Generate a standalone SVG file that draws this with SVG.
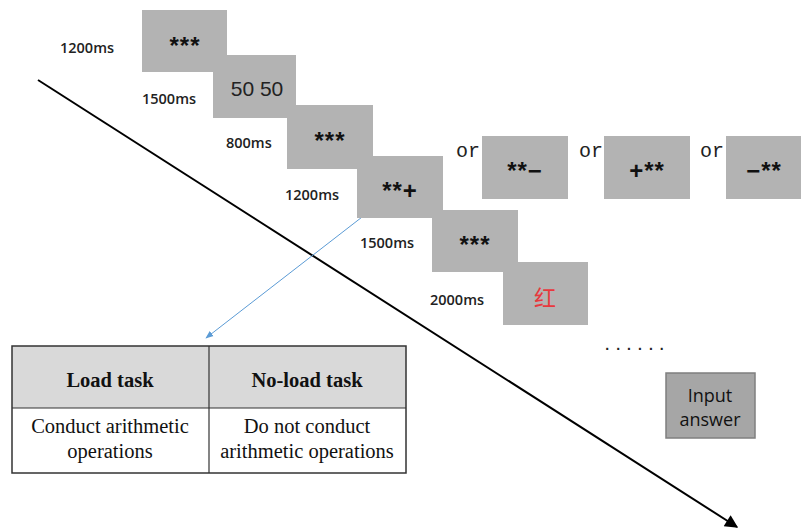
<svg xmlns="http://www.w3.org/2000/svg" width="801" height="529" viewBox="0 0 801 529">
  <defs>
    <marker id="arrowBlack" viewBox="0 0 10 10" refX="9" refY="5" markerWidth="15" markerHeight="13" orient="auto" markerUnits="userSpaceOnUse">
      <path d="M0,0 L10,5 L0,10 z" fill="#000"/>
    </marker>
    <marker id="arrowBlue" viewBox="0 0 10 10" refX="9" refY="5" markerWidth="8" markerHeight="8" orient="auto" markerUnits="userSpaceOnUse">
      <path d="M0,1 L10,5 L0,9 z" fill="#5b9bd5"/>
    </marker>
    <style>
      .screen { fill: #b3b3b3; }
      .stars { font-family: "Liberation Sans", Arial, sans-serif; font-weight: bold; font-size: 24px; fill: #111; text-anchor: middle; letter-spacing: 1px; }
      .time { font-family: "Open Sans", "Liberation Sans", sans-serif; font-weight: 600; font-size: 14.5px; fill: #222; }
      .or { font-family: "Liberation Mono", "Courier New", monospace; font-size: 20px; fill: #222; }
      .cell { font-family: "Liberation Serif", "Times New Roman", serif; font-size: 20.5px; fill: #111; text-anchor: middle; }
      .head { font-weight: bold; }
    </style>
  </defs>

  <!-- time axis and pointer to the task table -->
  <g id="connectors">
    <line x1="38" y1="80" x2="737" y2="527" stroke="#000" stroke-width="2" marker-end="url(#arrowBlack)"/>
    <line x1="375" y1="207" x2="206" y2="338" stroke="#5b9bd5" stroke-width="1" marker-end="url(#arrowBlue)"/>
  </g>

  <!-- stimulus screens -->
  <g id="fixation1">
    <rect class="screen" x="142" y="10" width="85" height="62"/>
    <text class="stars" x="185" y="54">***</text>
    <text class="time" x="60" y="53">1200ms</text>
  </g>
  <g id="numbers">
    <rect class="screen" x="213" y="55" width="83" height="63"/>
    <text x="257" y="96" font-family="Liberation Sans, Arial, sans-serif" font-size="21" fill="#222" text-anchor="middle">50 50</text>
    <text class="time" x="142" y="104">1500ms</text>
  </g>
  <g id="fixation2">
    <rect class="screen" x="287" y="105" width="86" height="64"/>
    <text class="stars" x="330" y="149">***</text>
    <text class="time" x="226" y="148">800ms</text>
  </g>
  <g id="operation">
    <rect class="screen" x="357" y="156" width="86" height="62"/>
    <text class="stars" x="400" y="199">**+</text>
    <text class="time" x="285" y="200">1200ms</text>
  </g>
  <g id="alt1">
    <text class="or" x="456" y="157">or</text>
    <rect class="screen" x="482" y="136" width="86" height="63"/>
    <text class="stars" x="525" y="179">**−</text>
  </g>
  <g id="alt2">
    <text class="or" x="579" y="157">or</text>
    <rect class="screen" x="604" y="136" width="86" height="63"/>
    <text class="stars" x="647" y="179">+**</text>
  </g>
  <g id="alt3">
    <text class="or" x="700" y="157">or</text>
    <rect class="screen" x="726" y="136" width="75" height="63"/>
    <text class="stars" x="764" y="179">−**</text>
  </g>
  <g id="fixation3">
    <rect class="screen" x="432" y="210" width="86" height="62"/>
    <text class="stars" x="475" y="253">***</text>
    <text class="time" x="360" y="248">1500ms</text>
  </g>
  <g id="colorword">
    <rect class="screen" x="503" y="262" width="85" height="63"/>
    <text x="545" y="306" font-family="Noto Sans CJK SC, sans-serif" font-size="22" fill="#e8383d" text-anchor="middle">红</text>
    <text class="time" x="430" y="305">2000ms</text>
  </g>

  <g id="ellipsis">
    <text x="638" y="350" font-family="Liberation Sans, Arial, sans-serif" font-size="14" font-weight="bold" fill="#222" text-anchor="middle" letter-spacing="7">......</text>
  </g>

  <g id="inputAnswer">
    <rect x="666" y="373" width="89" height="65" fill="#a6a6a6" stroke="#7f7f7f" stroke-width="1.5"/>
    <text x="710" y="402" font-family="Open Sans, Liberation Sans, sans-serif" font-size="18" fill="#111" text-anchor="middle">Input</text>
    <text x="710" y="426" font-family="Open Sans, Liberation Sans, sans-serif" font-size="18" fill="#111" text-anchor="middle">answer</text>
  </g>

  <!-- task condition table -->
  <g id="taskTable">
    <rect x="12" y="346" width="394" height="62" fill="#d9d9d9"/>
    <rect x="12" y="346" width="394" height="127" fill="none" stroke="#333" stroke-width="1.5"/>
    <line x1="12" y1="408" x2="406" y2="408" stroke="#333" stroke-width="1.2"/>
    <line x1="209" y1="346" x2="209" y2="473" stroke="#333" stroke-width="1.2"/>
    <text class="cell head" x="110" y="387">Load task</text>
    <text class="cell head" x="307" y="387">No-load task</text>
    <text class="cell" x="110" y="433">Conduct arithmetic</text>
    <text class="cell" x="110" y="458">operations</text>
    <text class="cell" x="307" y="433">Do not conduct</text>
    <text class="cell" x="307" y="458">arithmetic operations</text>
  </g>
</svg>
